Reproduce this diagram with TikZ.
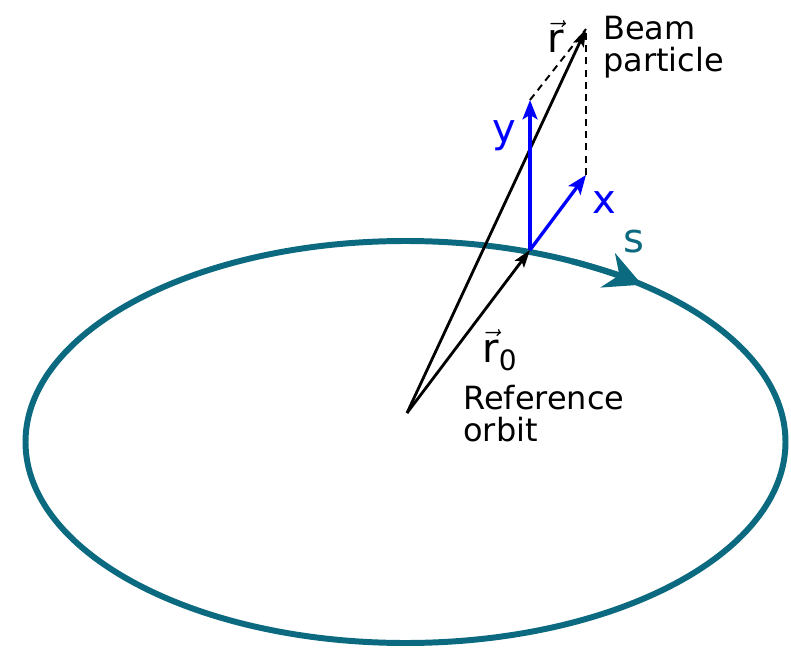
\documentclass[tikz,border=0pt]{standalone}
\usepackage{amsmath}
\usepackage{fontspec}
\setmainfont{DejaVu Sans}
\usetikzlibrary{arrows.meta,calc}
\definecolor{orbitTeal}{HTML}{0B6A80}
\definecolor{axisBlue}{HTML}{0000FF}

\begin{document}
\begin{tikzpicture}[
    x=0.02cm,
    y=0.02cm,
    orbit/.style={
        line width=3.4pt,
        orbitTeal,
    },
    vector/.style={
        -{Stealth[length=10pt,width=6.5pt,inset=2pt]},
        line width=1.6pt,
        black,
    },
    axis/.style={
        -{Stealth[length=11pt,width=8.5pt,inset=2.5pt]},
        line width=1.9pt,
        axisBlue,
    },
    helper/.style={
        line width=1.1pt,
        black,
        dash pattern=on 4pt off 3pt,
    },
    label/.style={
        inner sep=0pt,
        align=left,
        font=\fontsize{18.2}{18}\selectfont,
    },
    symbol/.style={
        inner sep=0pt,
        font=\fontsize{22.8}{27}\selectfont,
    },
]
    \useasboundingbox (0,0) rectangle (791,650);

    % Reference orbit
    \coordinate (c) at (405.5,208);
    \draw[orbit] (c) ellipse [x radius=380, y radius=201];
    \draw[orbit, -{Stealth[length=21pt,width=21pt,inset=7pt]}]
        ($(c)+(64:380 and 201)$) arc [start angle=64, end angle=51.5, x radius=380, y radius=201];

    % Position vectors
    \coordinate (o) at (407,237);
    \coordinate (r0) at (530,400);
    \coordinate (r) at (586,621);
    \coordinate (ytip) at (530,550);
    \coordinate (xtip) at (586,475);

    \draw[vector] (o) -- (r0);
    \draw[vector] (o) -- (r);

    % Local frame
    \draw[helper] (ytip) -- (r);
    \draw[helper] (xtip) -- (r);
    \draw[axis] (r0) -- (ytip);
    \draw[axis] (r0) -- (xtip);

    % Labels
    \node[symbol, anchor=base west] (rlabel) at (547,597) {$\vec{\text{r}}$};
    \node[label, anchor=north west] (beam) at (603,634) {Beam\\particle};
    \node[symbol, anchor=base west, axisBlue] (ylabel) at (492,507) {y};
    \node[symbol, anchor=base west, axisBlue] (xlabel) at (592,437) {x};
    \node[symbol, anchor=base west, orbitTeal] (slabel) at (623,398) {s};
    \node[symbol, anchor=base west] (r0label) at (482,288) {$\vec{\text{r}}_{\text{0}}$};
    \node[label, anchor=north west] (reflabel) at (463,265) {Reference\\orbit};

\end{tikzpicture}
\end{document}
